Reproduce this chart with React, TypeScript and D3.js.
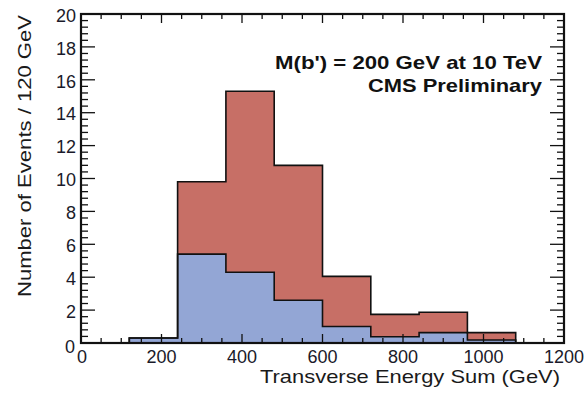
import React from "react";
import * as d3 from "d3";

// Transverse energy sum histogram, 120 GeV bins
const binEdges = [0, 120, 240, 360, 480, 600, 720, 840, 960, 1080, 1200];
const signalCounts = [0, 0.3, 5.4, 4.3, 2.6, 1.0, 0.38, 0.63, 0.18, 0];
const totalCounts = [0, 0.3, 9.8, 15.3, 10.8, 4.05, 1.74, 1.87, 0.63, 0];

const xTickValues = [0, 200, 400, 600, 800, 1000, 1200];
const yTickValues = [0, 2, 4, 6, 8, 10, 12, 14, 16, 18, 20];

const W = 587;
const H = 393;
const left = 81;
const right = 564;
const top = 14;
const bottom = 343;

const FONT = "'Liberation Sans', Arial, Helvetica, sans-serif";
const RED = "#c76f66";
const BLUE = "#93a6d5";

function stepPath(x: d3.ScaleLinear<number, number>, y: d3.ScaleLinear<number, number>, counts: number[]) {
  const pts: [number, number][] = [];
  counts.forEach((c, i) => {
    pts.push([x(binEdges[i]), y(c)]);
    pts.push([x(binEdges[i + 1]), y(c)]);
  });
  return d3.line()(pts) as string;
}

function areaPath(x: d3.ScaleLinear<number, number>, y: d3.ScaleLinear<number, number>, counts: number[]) {
  const pts: [number, number][] = [];
  counts.forEach((c, i) => {
    pts.push([x(binEdges[i]), y(c)]);
    pts.push([x(binEdges[i + 1]), y(c)]);
  });
  const area = d3
    .area<[number, number]>()
    .x((d) => d[0])
    .y0(y(0))
    .y1((d) => d[1]);
  return area(pts) as string;
}

export default function App() {
  const x = d3.scaleLinear().domain([0, 1200]).range([left, right]);
  const y = d3.scaleLinear().domain([0, 20]).range([bottom, top]);

  const xMinor = d3.range(0, 1200 + 1, 50);
  const yMinor = d3.range(0, 20.001, 0.4);

  return (
    <svg width={W} height={H} style={{ position: "absolute", left: 0, top: 0, background: "#fff" }}>
      {/* stacked fills */}
      <path d={areaPath(x, y, totalCounts)} fill={RED} />
      <path d={areaPath(x, y, signalCounts)} fill={BLUE} />
      <path d={stepPath(x, y, totalCounts)} fill="none" stroke="#111" strokeWidth={1.6} />
      <path d={stepPath(x, y, signalCounts)} fill="none" stroke="#111" strokeWidth={1.6} />

      {/* ticks on all four sides, pointing inward */}
      <g stroke="#111" strokeWidth={1.3}>
        {xMinor.map((v) => {
          const major = v % 200 === 0;
          const len = major ? 9 : 5;
          return (
            <g key={"xt" + v}>
              <line x1={x(v)} x2={x(v)} y1={bottom} y2={bottom - len} />
              <line x1={x(v)} x2={x(v)} y1={top} y2={top + len} />
            </g>
          );
        })}
        {yMinor.map((v, i) => {
          const major = i % 5 === 0;
          const len = major ? 14 : 7;
          return (
            <g key={"yt" + i}>
              <line x1={left} x2={left + len} y1={y(v)} y2={y(v)} />
              <line x1={right} x2={right - len} y1={y(v)} y2={y(v)} />
            </g>
          );
        })}
      </g>

      {/* frame */}
      <rect x={left} y={top} width={right - left} height={bottom - top} fill="none" stroke="#111" strokeWidth={2.2} />

      {/* tick labels */}
      <g fontFamily={FONT} fontSize={18} fill="#1a1a2a">
        {yTickValues.map((v) => (
          <text key={"yl" + v} x={v === 0 ? 75 : 76} y={y(v) + (v === 0 ? 5 : 3)} textAnchor="end" dominantBaseline="middle">
            {v}
          </text>
        ))}
        {xTickValues.map((v) => (
          <text key={"xl" + v} x={x(v) + (v === 0 ? 1 : 0)} y={363} textAnchor="middle">
            {v}
          </text>
        ))}
      </g>

      {/* axis titles */}
      <text x={560} y={383} textAnchor="end" fontFamily={FONT} fontSize={19} fill="#1a1a1a" textLength={300} lengthAdjust="spacingAndGlyphs">
        Transverse Energy Sum (GeV)
      </text>
      <text
        transform={`translate(31, 156) rotate(-90)`}
        textAnchor="middle"
        fontFamily={FONT}
        fontSize={19}
        fill="#1a1a1a"
        textLength={282}
        lengthAdjust="spacingAndGlyphs"
      >
        Number of Events / 120 GeV
      </text>

      {/* annotations */}
      <text x={542} y={69} textAnchor="end" fontFamily={FONT} fontWeight="bold" fontSize={18.5} fill="#111" textLength={267} lengthAdjust="spacingAndGlyphs">
        M(b') = 200 GeV at 10 TeV
      </text>
      <text x={542} y={92} textAnchor="end" fontFamily={FONT} fontWeight="bold" fontSize={18.5} fill="#111" textLength={174} lengthAdjust="spacingAndGlyphs">
        CMS Preliminary
      </text>
    </svg>
  );
}
